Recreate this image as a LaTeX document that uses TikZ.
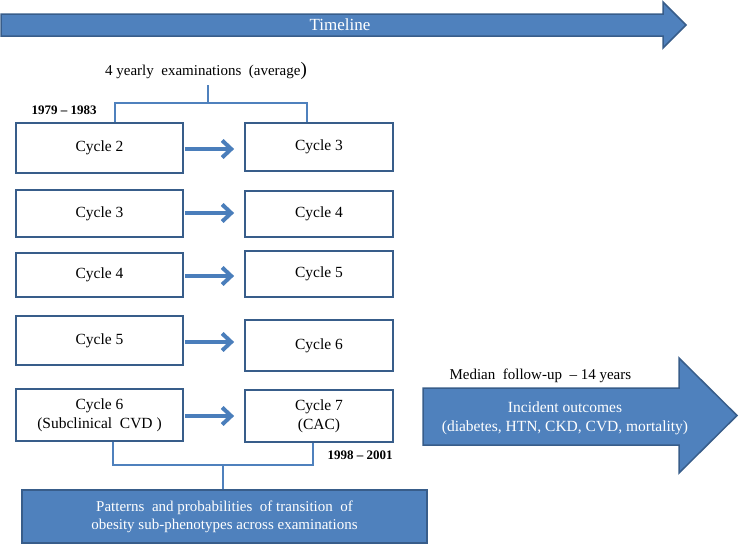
\documentclass[tikz,border=0pt]{standalone}
\usepackage{fontspec}
\setmainfont{Liberation Serif}
\usetikzlibrary{arrows.meta}
\definecolor{fillblue}{HTML}{4F81BD}
\definecolor{edgeblue}{HTML}{385D8A}
\definecolor{linkblue}{HTML}{4A7EBB}
\begin{document}
\begin{tikzpicture}[x=1pt,y=-1pt,
  cyc/.style={draw=edgeblue,line width=1.8pt,fill=white,align=center,inner sep=0pt,
     font=\fontsize{15.5}{19}\selectfont},
  flow/.style={draw=linkblue,line width=4pt,-{Straight Barb[length=9pt,width=17pt]},
     shorten >=10pt,shorten <=1pt},
  bracket/.style={draw=fillblue,line width=2pt},
  bigarrow/.style={fill=fillblue,draw=edgeblue,line width=1.5pt,line join=miter},
  whitetext/.style={text=white,align=center,font=\fontsize{15.5}{19}\selectfont},
  plain/.style={font=\fontsize{15}{19}\selectfont},
  yearlbl/.style={font=\fontsize{13}{15}\selectfont\bfseries}]
\useasboundingbox (0,0) rectangle (739,546);

% timeline arrow
\draw[bigarrow] (1,14) -- (663,14) -- (663,2) -- (686,25) -- (663,48) -- (663,36) -- (1,36) -- cycle;
\node[whitetext,font=\fontsize{17}{19}\selectfont] (tl) at (340,25) {Timeline};

% top label and bracket
\node[plain] (avg) at (206,71) {4 yearly\ \ examinations\ \ (average{\fontsize{19}{19}\selectfont)}};
\coordinate (tb) at (208,85);
\coordinate (tm) at (208,103);

% boxes
\node[cyc,minimum width=167pt,minimum height=50pt] (l1) at (99.5,148) {Cycle 2};
\node[cyc,minimum width=148pt,minimum height=48pt] (r1) at (319,147) {Cycle 3};
\node[cyc,minimum width=167pt,minimum height=47pt] (l2) at (99.5,213.5) {Cycle 3};
\node[cyc,minimum width=148pt,minimum height=46pt] (r2) at (319,214) {Cycle 4};
\node[cyc,minimum width=167pt,minimum height=44pt] (l3) at (99.5,275) {Cycle 4};
\node[cyc,minimum width=148pt,minimum height=46pt] (r3) at (319,274) {Cycle 5};
\node[cyc,minimum width=167pt,minimum height=49pt] (l4) at (99.5,340.5) {Cycle 5};
\node[cyc,minimum width=148pt,minimum height=51pt] (r4) at (319,345.5) {Cycle 6};
\node[cyc,minimum width=167pt,minimum height=52pt] (l5) at (99.5,415) {Cycle 6\\(Subclinical\ \ CVD )};
\node[cyc,minimum width=148pt,minimum height=52pt] (r5) at (319,416) {Cycle 7\\(CAC)};

% top bracket
\draw[bracket] (tb) -- (tm);
\draw[bracket] (l1.north -| 115,0) |- (tm) -| (r1.north -| 307,0);

% year labels
\node[yearlbl] (y1) at (64,110) {1979 – 1983};
\node[yearlbl] (y2) at (360,455) {1998 – 2001};

% transition arrows
\draw[flow] (l1.east |- 0,149) -- (r1.west |- 0,149);
\draw[flow] (l2.east |- 0,213) -- (r2.west |- 0,213);
\draw[flow] (l3.east |- 0,276) -- (r3.west |- 0,276);
\draw[flow] (l4.east |- 0,342) -- (r4.west |- 0,342);
\draw[flow] (l5.east |- 0,416) -- (r5.west |- 0,416);

% bottom box and bracket
\node[fill=fillblue,draw=edgeblue,line width=1.5pt,minimum width=405pt,minimum height=53pt,
      whitetext,font=\fontsize{15}{18}\selectfont] (pat) at (224.5,516.5)
      {Patterns\ \ and probabilities\ \ of transition\ \ of\\obesity sub-phenotypes across examinations};
\coordinate (bm) at (223,465);
\draw[bracket] (l5.south -| 113,0) |- (bm) -| (r5.south -| 313,0);
\draw[bracket] (bm) -- (pat.north -| bm);

% follow-up arrow
\draw[bigarrow] (423,388) -- (679,388) -- (679,358) -- (737,415.5) -- (679,473) -- (679,445) -- (423,445) -- cycle;
\node[plain,anchor=west] (med) at (446,376) {Median\ \ follow-up\ \ – 14 years};
\node[whitetext] (inc) at (565,418.5) {Incident outcomes\\(diabetes, HTN, CKD, CVD, mortality)};
\end{tikzpicture}
\end{document}
